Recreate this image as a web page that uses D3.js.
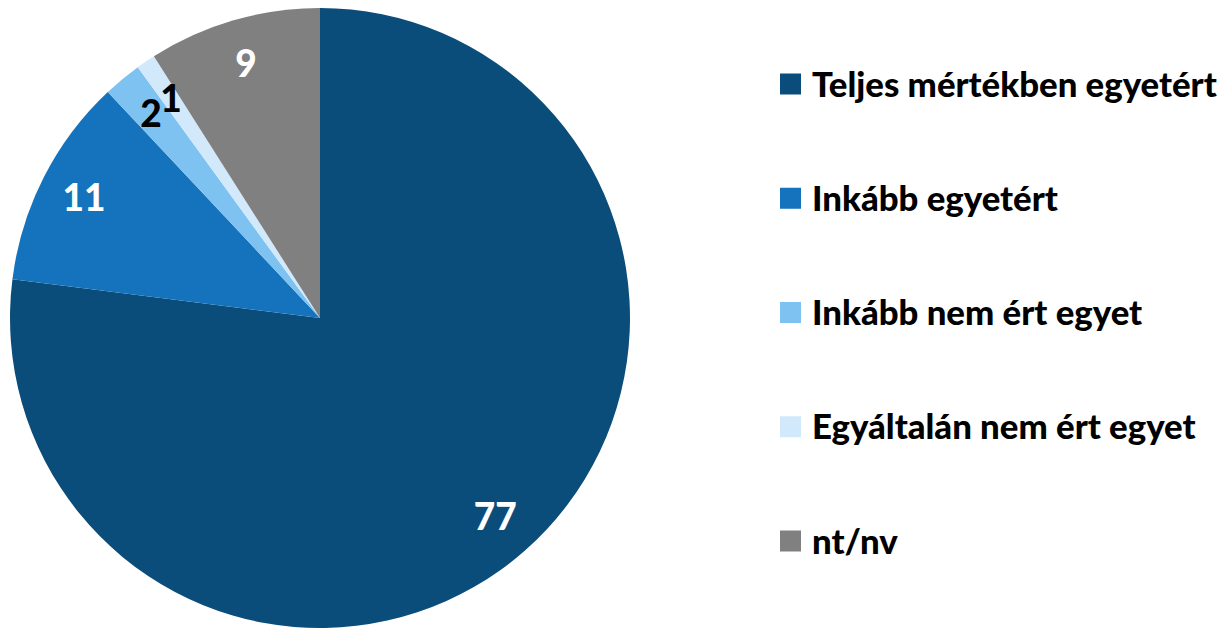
<!DOCTYPE html>
<html><head><meta charset="utf-8">
<script src="https://cdn.jsdelivr.net/npm/d3@7"></script>
<style>body{margin:0;background:#fff}svg{display:block}</style>
</head><body>
<svg id="c" width="1224" height="628"></svg>
<script>
const categories = ["Teljes mértékben egyetért","Inkább egyetért","Inkább nem ért egyet","Egyáltalán nem ért egyet","nt/nv"];
const values = [77, 11, 2, 1, 9];
const colors = ["#0B4D7A","#1473BC","#7EC2F2","#D2E9FB","#808080"];
const labelColors = ["#fff","#fff","#000","#000","#fff"];

const svg = d3.select("#c");
const cx = 320, cy = 318, r = 310;
const font = "Lato, 'Open Sans', sans-serif";

const pie = d3.pie().sort(null).value(d => d)(values);
const arc = d3.arc().innerRadius(0).outerRadius(r);
const labelArc = d3.arc().innerRadius(265).outerRadius(265);

const g = svg.append("g").attr("transform", `translate(${cx},${cy})`);
g.selectAll("path").data(pie).join("path")
  .attr("d", arc).attr("fill", (d,i) => colors[i]);
g.selectAll("text").data(pie).join("text")
  .attr("transform", d => `translate(${labelArc.centroid(d)})`)
  .attr("text-anchor","middle").attr("dy","0.36em")
  .attr("font-family", font).attr("font-weight", 900).attr("font-size", 37)
  .attr("fill", (d,i) => labelColors[i])
  .text(d => d.data);

const ly = d3.scalePoint().domain(categories).range([84, 541]);
const lg = svg.append("g");
const rows = lg.selectAll("g").data(categories).join("g")
  .attr("transform", d => `translate(780,${ly(d)})`);
rows.append("rect").attr("x",0).attr("y",-10.5).attr("width",21).attr("height",21)
  .attr("fill", (d,i) => colors[i]);
const texts = rows.append("text").attr("x",32).attr("dy","0.36em")
  .attr("font-family", font).attr("font-weight", 900).attr("font-size", 31)
  .attr("fill","#000").text(d => d);
// fit the longest legend entry to the reference width
const w0 = texts.nodes()[0].getComputedTextLength();
const fs = 31 * 405 / w0;
texts.attr("font-size", fs);
</script>
</body></html>
